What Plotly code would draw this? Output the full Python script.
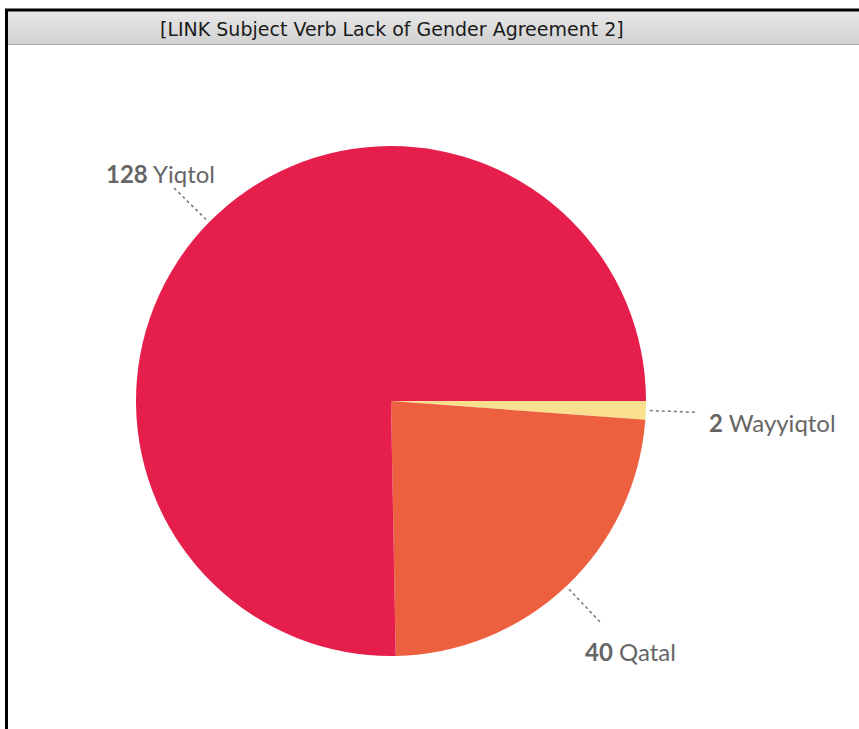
import math
import plotly.graph_objects as go

# ---- data ----
categories = ["Wayyiqtol", "Qatal", "Yiqtol"]
values = [2, 40, 128]
colors = ["#F8E08E", "#EC6040", "#E61E4B"]
title_text = "[LINK Subject Verb Lack of Gender Agreement 2]"

W, H = 859, 729
CX, CY, R = 391, 401, 255  # pie centre/radius in pixels


def px(x):
    return x / W


def py(y):
    return 1 - y / H


fig = go.Figure()
fig.add_trace(go.Pie(
    labels=categories, values=values, sort=False, direction="clockwise",
    rotation=90, marker=dict(colors=colors, line=dict(width=0)),
    textinfo="none", hoverinfo="label+value", showlegend=False,
    domain=dict(x=[px(CX - R), px(CX + R)], y=[py(CY + R), py(CY - R)]),
))

shapes = []
annotations = []

# window chrome: title bar gradient
top, bottom = 11, 44
n = 33
for i in range(n):
    t = i / (n - 1)
    c = int(232 - t * 22)
    y0 = top + (bottom - top) * i / n
    y1 = top + (bottom - top) * (i + 1) / n
    shapes.append(dict(type="rect", xref="paper", yref="paper",
                       x0=px(7), x1=1, y0=py(y1), y1=py(y0),
                       fillcolor=f"rgb({c},{c},{c})", line=dict(width=0), layer="below"))
shapes.append(dict(type="line", xref="paper", yref="paper", x0=px(7), x1=1,
                   y0=py(44.5), y1=py(44.5), line=dict(color="#a8a8a8", width=1)))
shapes.append(dict(type="line", xref="paper", yref="paper", x0=px(5), x1=1,
                   y0=py(10), y1=py(10), line=dict(color="#000", width=3)))
shapes.append(dict(type="line", xref="paper", yref="paper", x0=px(6.5), x1=px(6.5),
                   y0=py(9), y1=0, line=dict(color="#000", width=3)))

annotations.append(dict(text=title_text, x=px(392), y=py(29), xref="paper", yref="paper",
                        showarrow=False, xanchor="center", yanchor="middle",
                        font=dict(family="DejaVu Sans", size=19, color="#1a1a1a")))

# outside labels with dotted leader lines, positioned from the data angles
total = sum(values)
cum = 0
for cat, v in zip(categories, values):
    mid = (cum + v / 2) / total * 2 * math.pi  # clockwise from 3 o'clock
    cum += v
    c, s = math.cos(mid), math.sin(mid)
    x0, y0 = CX + 259 * c, CY + 259 * s
    x1, y1 = CX + 306 * c, CY + 306 * s
    shapes.append(dict(type="line", xref="paper", yref="paper",
                       x0=px(x0), y0=py(y0), x1=px(x1), y1=py(y1),
                       line=dict(color="#777", width=1.5, dash="dot")))
    if abs(c) > 0.9:
        lx, ly = CX + 316 * c, CY + 259 * s + 12
        xa = "left" if c > 0 else "right"
    else:
        lx, ly = CX + 335 * c + 9, CY + 335 * s + 7
        xa = "center"
    annotations.append(dict(
        text=f"<b>{v}</b> {cat}", x=px(lx), y=py(ly), xref="paper", yref="paper",
        showarrow=False, xanchor=xa, yanchor="middle",
        font=dict(family="Lato", size=24, color="#666")))

fig.update_layout(
    width=W, height=H, margin=dict(l=0, r=0, t=0, b=0),
    paper_bgcolor="white", plot_bgcolor="white",
    shapes=shapes, annotations=annotations,
)
fig.write_html("out.html")
